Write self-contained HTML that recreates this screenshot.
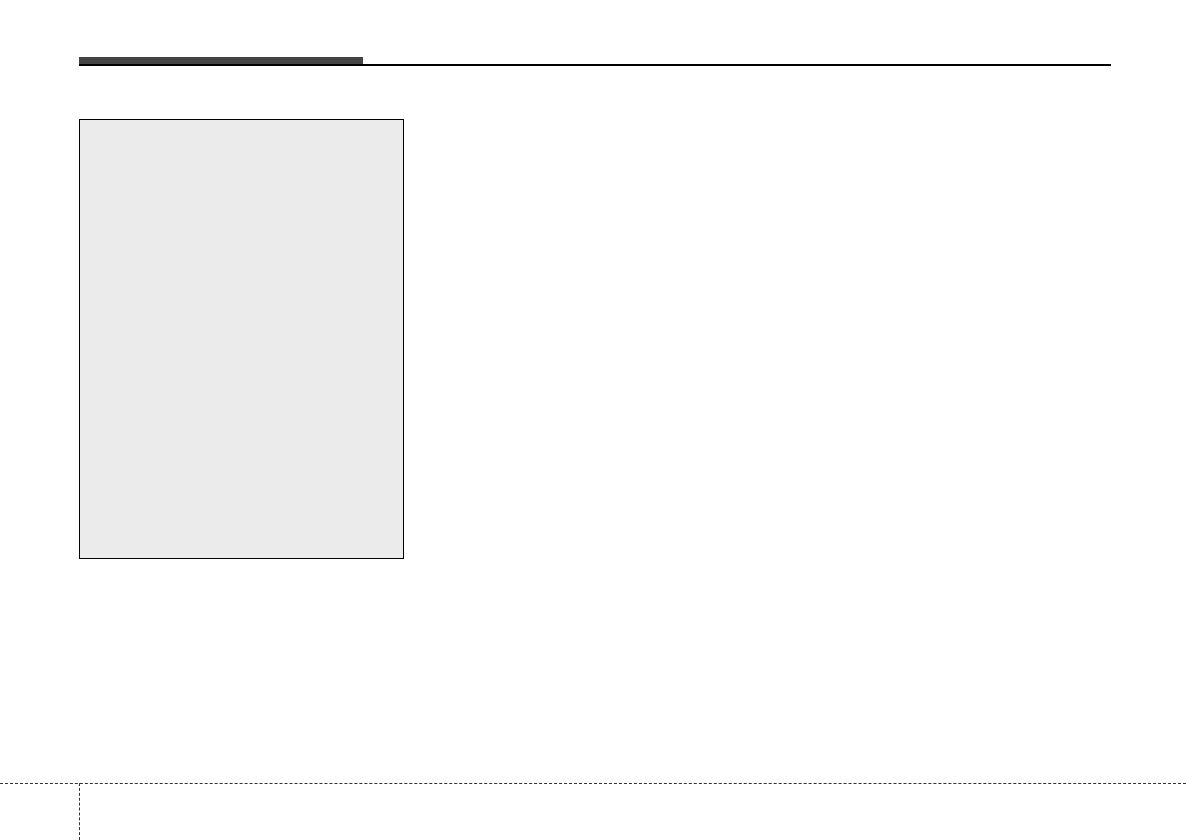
<!DOCTYPE html>
<html><head><style>
body{margin:0;width:1186px;height:840px;background:#fff;position:relative;overflow:hidden}
div{position:absolute}
</style></head><body>
<div style="left:79px;top:57px;width:284px;height:9px;background:#444"></div>
<div style="left:79px;top:64px;width:1032px;height:2px;background:#000"></div>
<div style="left:79px;top:119px;width:323px;height:438px;background:#ebebeb;border:1px solid #000"></div>
<div style="left:0;top:783px;width:1186px;height:0;border-top:1px dashed #333"></div>
<div style="left:79px;top:783px;width:0;height:57px;border-left:1px dashed #333"></div>
</body></html>
